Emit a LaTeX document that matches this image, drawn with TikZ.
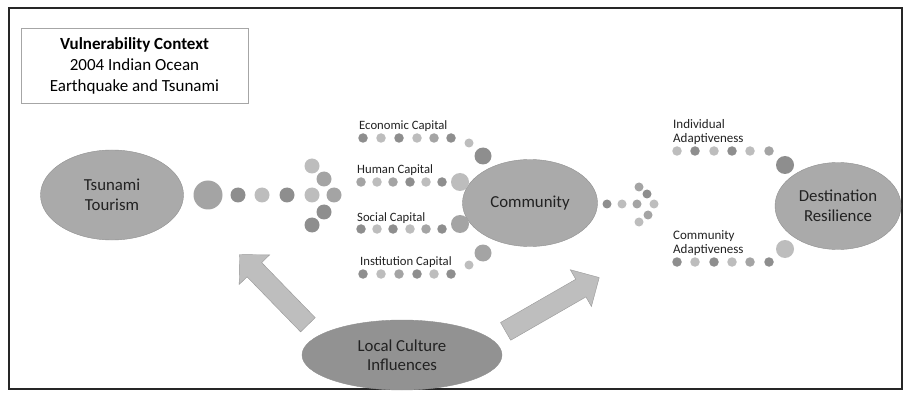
\documentclass[tikz,border=0pt]{standalone}
\usepackage{fontspec}
\setmainfont{Carlito}
\usepackage{tikz}
\usetikzlibrary{shapes.geometric, shapes.arrows}
\usepackage{xcolor}
\definecolor{dotdark}{HTML}{8E8E8E}
\definecolor{dotmid}{HTML}{A4A4A4}
\definecolor{dotlight}{HTML}{BDBDBD}
\definecolor{blobgray}{HTML}{AAAAAA}
\definecolor{blobdark}{HTML}{929292}
\definecolor{arrowgray}{HTML}{BEBEBE}
\definecolor{inkgray}{HTML}{222222}

\begin{document}
\begin{tikzpicture}[x=1pt, y=-1pt,
      blob/.style={ellipse, fill=blobgray, draw=blobgray!85!black, inner sep=0pt,
                   text=inkgray, align=center, font=\fontsize{16.8}{19.5}\selectfont},
      dot/.style={circle, inner sep=0pt, minimum size=#1},
      dot/.default=9.5,
      lbl/.style={anchor=west, inner sep=0pt, text=inkgray, align=left,
                  font=\fontsize{12.7}{14}\selectfont},
      bigarr/.style={single arrow, fill=arrowgray, draw=arrowgray!80!black,
                     inner sep=10pt, single arrow head extend=11pt, minimum height=#1}
    ]
      \fill[white] (0,0) rectangle (903,393);
      \useasboundingbox (0,0) rectangle (903,393);
      \draw[line width=1.5pt, black!85] (9,8) rectangle (902,389);

      \node[draw=black!35, minimum width=227, minimum height=75, align=center,
            font=\fontsize{17}{21}\selectfont] (ctx) at (134.5,65.5)
        {\textbf{Vulnerability Context}\\2004 Indian Ocean\\Earthquake and Tsunami};

      \node[bigarr=98, rotate=134.2] (arrL) at (277.3,293.3) {};
      \node[bigarr=108, rotate=29.9] (arrR) at (548,307) {};

      \node[blob, minimum width=143, minimum height=90] (tour) at (112,195) {Tsunami\\Tourism};
      \node[blob, minimum width=135, minimum height=87] (comm) at (530,203) {Community};
      \node[blob, minimum width=126, minimum height=87] (dest) at (838,206) {Destination\\Resilience};
      \node[blob, fill=blobdark, minimum width=200, minimum height=70] (cult) at (402,355)
        {Local Culture\\Influences};

      \node[dot=29, fill=dotmid] (t0) at (208,195) {};
      \foreach \x/\c [count=\i] in {238/dotdark, 262/dotlight, 287/dotdark}
        \node[dot=15, fill=\c] (t\i) at (\x,195) {};
      \foreach \x/\y/\c [count=\i] in {312/166/dotlight, 324/179/dotmid, 312/195/dotlight,
                                     334/195/dotmid, 324/212/dotdark, 312/225/dotdark}
        \node[dot=15, fill=\c] (tv\i) at (\x,\y) {};

      \node[lbl] (econ) at (359,126) {Economic Capital};
      \node[lbl] (hum) at (357,170) {Human Capital};
      \node[lbl] (soc) at (357,218) {Social Capital};
      \node[lbl] (inst) at (360,262) {Institution Capital};
      \foreach \x/\c [count=\i] in {363/dotdark, 381/dotlight, 399/dotdark,
                                  417/dotlight, 434/dotmid, 451/dotdark}
        \node[dot, fill=\c] (e\i) at (\x,138) {};
      \foreach \x/\c [count=\i] in {361/dotmid, 377/dotlight, 393/dotmid,
                                  410/dotdark, 426/dotlight, 442/dotdark}
        \node[dot, fill=\c] (h\i) at (\x,182) {};
      \foreach \x/\c [count=\i] in {361/dotdark, 377/dotlight, 393/dotdark,
                                  410/dotlight, 426/dotmid, 442/dotdark}
        \node[dot, fill=\c] (s\i) at (\x,229) {};
      \foreach \x/\c [count=\i] in {363/dotdark, 381/dotlight, 399/dotmid,
                                  417/dotdark, 434/dotlight, 451/dotdark}
        \node[dot, fill=\c] (n\i) at (\x,274) {};
      \node[dot=9, fill=dotlight] (e7) at (469,143) {};
      \node[dot=17, fill=dotdark] (e8) at (483,156) {};
      \node[dot=18, fill=dotlight] (h7) at (460,182) {};
      \node[dot=18, fill=dotmid] (s7) at (460,224) {};
      \node[dot=9, fill=dotlight] (n7) at (469,265) {};
      \node[dot=17, fill=dotmid] (n8) at (483,253) {};

      \foreach \x/\y/\c [count=\i] in {607/204/dotdark, 622/204/dotlight, 637/204/dotmid,
                                     654/204/dotlight, 639/187/dotmid, 647/194/dotdark,
                                     648/215/dotmid, 639/222/dotlight}
        \node[dot=9, fill=\c] (c\i) at (\x,\y) {};

      \node[lbl, font=\fontsize{13}{14}\selectfont] (indiv) at (673,132) {Individual\\Adaptiveness};
      \node[lbl, font=\fontsize{13}{14}\selectfont] (cadap) at (673,243) {Community\\Adaptiveness};
      \foreach \x/\c [count=\i] in {677/dotlight, 695/dotdark, 714/dotlight,
                                  732/dotdark, 750/dotlight, 769/dotmid}
        \node[dot, fill=\c] (i\i) at (\x,151) {};
      \foreach \x/\c [count=\i] in {677/dotdark, 695/dotlight, 714/dotdark,
                                  732/dotlight, 750/dotmid, 769/dotdark}
        \node[dot, fill=\c] (a\i) at (\x,262) {};
      \node[dot=18, fill=dotdark] (i7) at (785,165) {};
      \node[dot=18, fill=dotlight] (a7) at (785,249) {};
    \end{tikzpicture}
\end{document}
